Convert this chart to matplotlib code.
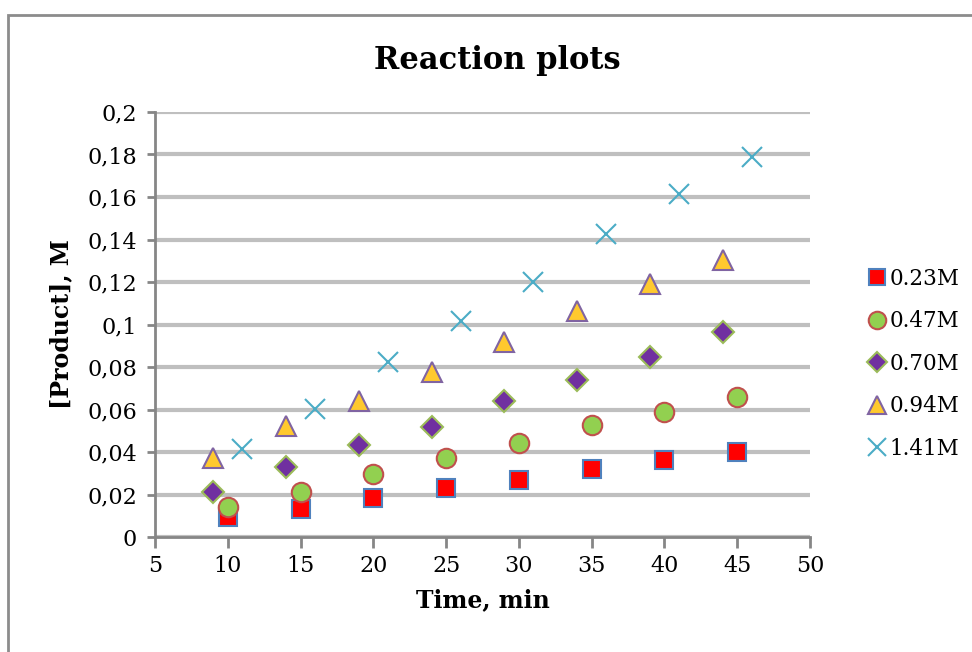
import matplotlib
matplotlib.use("Agg")
import matplotlib.pyplot as plt
from matplotlib.patches import Rectangle
from matplotlib.ticker import FuncFormatter, MultipleLocator

# series data
x_a = [10, 15, 20, 25, 30, 35, 40, 45]
y_023 = [0.0095, 0.0130, 0.0184, 0.0230, 0.0270, 0.0320, 0.0362, 0.0402]
y_047 = [0.0140, 0.0212, 0.0296, 0.0372, 0.0442, 0.0525, 0.0586, 0.0658]

x_b = [9, 14, 19, 24, 29, 34, 39, 44]
y_070 = [0.0210, 0.0328, 0.0431, 0.0518, 0.0638, 0.0739, 0.0845, 0.0963]
y_094 = [0.0370, 0.0522, 0.0638, 0.0776, 0.0916, 0.1062, 0.1192, 0.1305]

x_c = [11, 16, 21, 26, 31, 36, 41, 46]
y_141 = [0.0412, 0.0602, 0.0822, 0.1018, 0.1202, 0.1425, 0.1612, 0.1788]

labels = ["0.23M", "0.47M", "0.70M", "0.94M", "1.41M"]

font = "DejaVu Serif"
plt.rcParams['font.family'] = font

fig = plt.figure(figsize=(9.72, 6.52), dpi=100)
ax = fig.add_axes([155/972, 1-537/652, 655/972, 425/652])

# outer chart border (Excel style)
fig.patches.append(Rectangle((8/972, -0.05), 1.2, 1-15/652+0.05, transform=fig.transFigure,
                             fill=False, edgecolor="#8c8c8c", linewidth=2, zorder=0))

ax.plot(x_a, y_023, linestyle="none", marker="s", markersize=13,
        markerfacecolor="#FF0000", markeredgecolor="#4F81BD", markeredgewidth=1.5, label=labels[0], zorder=3)
ax.plot(x_a, y_047, linestyle="none", marker="o", markersize=14,
        markerfacecolor="#92D050", markeredgecolor="#C0504D", markeredgewidth=1.5, label=labels[1], zorder=3)
ax.plot(x_b, y_070, linestyle="none", marker="D", markersize=11,
        markerfacecolor="#7030A0", markeredgecolor="#9BBB59", markeredgewidth=1.5, label=labels[2], zorder=3)
ax.plot(x_b, y_094, linestyle="none", marker="^", markersize=14,
        markerfacecolor="#FFC92E", markeredgecolor="#8064A2", markeredgewidth=1.5, label=labels[3], zorder=3)
ax.plot(x_c, y_141, linestyle="none", marker="x", markersize=14,
        markeredgecolor="#4BACC6", markeredgewidth=1.5, label=labels[4], zorder=3)

ax.set_xlim(5, 50)
ax.set_ylim(0, 0.2)
ax.xaxis.set_major_locator(MultipleLocator(5))
ax.yaxis.set_major_locator(MultipleLocator(0.02))

def comma_fmt(v, pos):
    s = "%g" % round(v, 4)
    return s.replace(".", ",")

ax.yaxis.set_major_formatter(FuncFormatter(comma_fmt))
ax.xaxis.set_major_formatter(FuncFormatter(comma_fmt))

ax.grid(axis="y", color="#BFBFBF", linewidth=3)
ax.set_axisbelow(True)
for s in ["top", "right"]:
    ax.spines[s].set_visible(False)
for s in ["left", "bottom"]:
    ax.spines[s].set_color("#868686")
    ax.spines[s].set_linewidth(2)
ax.tick_params(axis="both", colors="#868686", width=2, labelcolor="black", labelsize=16)
ax.tick_params(axis="x", length=8, pad=5)
ax.tick_params(axis="y", length=6, pad=7)

fig.text(497/972, 1-60/652, "Reaction plots", ha="center", va="center",
         fontsize=22, fontweight="bold")
ax.set_xlabel("Time, min", fontsize=17, fontweight="bold", labelpad=8)
ax.set_ylabel("[Product], M", fontsize=17, fontweight="bold", labelpad=10)

ax.legend(loc="upper left", bbox_to_anchor=(854/972, 1-257/652), bbox_transform=fig.transFigure,
          frameon=False, fontsize=15.5, handletextpad=0.05, labelspacing=0.95,
          handlelength=1.1, borderpad=0, markerscale=0.9)

fig.savefig("out.png", dpi=100)
